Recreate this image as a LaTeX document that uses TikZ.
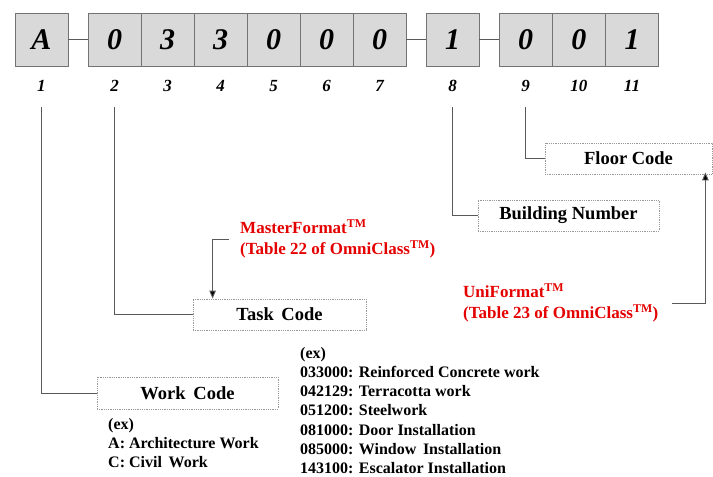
\documentclass[tikz,border=0pt]{standalone}
\usepackage{fontspec}
\setmainfont{Liberation Serif}
\usetikzlibrary{arrows.meta,calc,positioning}

\begin{document}
\begin{tikzpicture}[x=1pt,y=-1pt,>={Triangle[length=8pt,width=6.5pt]},font=\bfseries]
\tikzset{
  digit/.style={draw=black!55,fill=black!15,line width=0.9pt,minimum size=53pt,inner sep=0pt,font=\bfseries\itshape\fontsize{30}{30}\selectfont},
  posnum/.style={font=\bfseries\itshape\fontsize{17}{17}\selectfont},
  field/.style={draw=black!40,densely dotted,line width=0.8pt,inner sep=0pt,font=\bfseries\fontsize{18.5}{18.5}\selectfont},
  link/.style={draw=black!65,line width=0.9pt},
  red note/.style={text=red!90!black,align=left,inner sep=1pt,font=\bfseries\fontsize{17}{21}\selectfont},
  example/.style={align=left,inner sep=0pt,anchor=north west,font=\bfseries\fontsize{16}{19.2}\selectfont}
}
\useasboundingbox (0,0) rectangle (713,477);
% code digits
\foreach \i/\x/\d in {1/41.5/A,2/114.5/0,3/167.5/3,4/220.5/3,5/273.5/0,6/326.5/0,7/379.5/0,8/452.5/1,9/525.5/0,10/578.8/0,11/632/1}{
  \node[digit] (b\i) at (\x,39.5) {\d};
  \node[posnum] (p\i) at (\x,86) {\i};
}
\draw[link] (b1.east)--(b2.west);
\draw[link] (b7.east)--(b8.west);
\draw[link] (b8.east)--(b9.west);
% fields
\node[field,minimum width=181pt,minimum height=32pt] (work) at (187.5,393) {Work\, Code};
\node[field,minimum width=173pt,minimum height=31pt] (task) at (279.5,314.5) {Task\, Code};
\node[field,minimum width=181pt,minimum height=31pt] (bldg) at (568.5,215.5) {Building Number};
\node[field,minimum width=167pt,minimum height=31pt] (floor) at (628.5,158.5) {Floor Code};
\draw[link] ([yshift=-12pt]p1.south)|-(work.west);
\draw[link] ([yshift=-12pt]p2.south)|-(task.west);
\draw[link] ([yshift=-12pt]p8.south)|-(bldg.west);
\draw[link] ([yshift=-12pt]p9.south)|-(floor.west);
% classification sources
\node[red note,anchor=west] (master) at (239,239) {MasterFormat\textsuperscript{TM}\\(Table 22 of OmniClass\textsuperscript{TM})};
\node[red note,anchor=west] (uni) at (462,303) {UniFormat\textsuperscript{TM}\\(Table 23 of OmniClass\textsuperscript{TM})};
\draw[link,->,>={Triangle[length=8pt,width=6.5pt,fill=black]}] ([xshift=-10pt]master.west)-|([xshift=20pt]task.north west);
\draw[link,->,>={Triangle[length=8pt,width=6.5pt,fill=black]}] ([xshift=12pt]uni.east)-|([xshift=-7pt,yshift=2pt]floor.south east);
% examples
\node[example] (workex) at (108,418) {(ex)\\A: Architecture Work\\C: Civil\, Work};
\node[example] (taskex) at (300,347) {(ex)\\033000: Reinforced Concrete work\\042129: Terracotta work\\051200: Steelwork\\081000: Door Installation\\085000: Window\, Installation\\143100: Escalator Installation};
\end{tikzpicture}
\end{document}
